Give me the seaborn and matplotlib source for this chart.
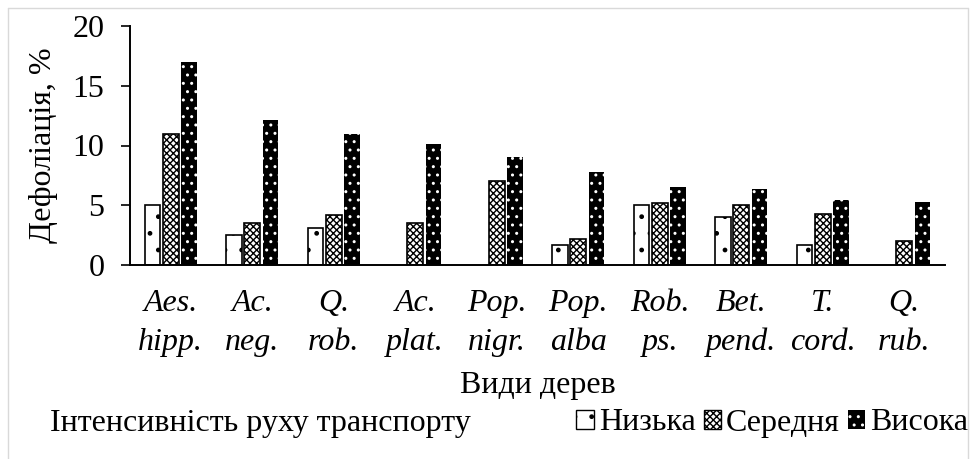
import matplotlib
matplotlib.use("Agg")
import matplotlib.pyplot as plt
from matplotlib.patches import Patch
from matplotlib.lines import Line2D
import seaborn as sns
import pandas as pd

species = ["Aes.\nhipp.", "Ac.\nneg.", "Q.\nrob.", "Ac.\nplat.", "Pop.\nnigr.",
           "Pop.\nalba", "Rob.\nps.", "Bet.\npend.", "T.\ncord.", "Q.\nrub."]
levels = ["Низька", "Середня", "Висока"]
low = [5.0, 2.5, 3.1, 0.0, 0.0, 1.7, 5.0, 4.0, 1.7, 0.0]
mid = [11.0, 3.5, 4.2, 3.5, 7.0, 2.2, 5.2, 5.0, 4.3, 2.0]
high = [17.0, 12.1, 11.0, 10.1, 9.0, 7.8, 6.5, 6.4, 5.4, 5.3]

rows = []
for lev, vals in zip(levels, [low, mid, high]):
    for sp, v in zip(species, vals):
        rows.append({"species": sp, "level": lev, "value": v})
df = pd.DataFrame(rows)

sns.set_theme(style="ticks")
plt.rcParams["font.family"] = ["Liberation Serif", "DejaVu Serif"]
plt.rcParams["text.color"] = "black"
FS = 23

fig = plt.figure(figsize=(9.73, 4.59), dpi=100)
ax = fig.add_axes([130 / 973, 1 - 265 / 459, 815 / 973, 239 / 459])

sns.barplot(data=df, x="species", y="value", hue="level", order=species,
            hue_order=levels, palette=["white", "white", "black"],
            width=0.68, gap=0.16, edgecolor="black", linewidth=1.2,
            legend=False, ax=ax)

# low: white with sparse dots, mid: fine checker, high: black with white dots
styles = [("white", "black", "."), ("white", "black", "xxxxx"), ("black", "white", "..")]
for cont, (fc, ec, h) in zip(ax.containers, styles):
    for bar in cont:
        bar.set_facecolor(fc)
        bar.set_hatch(h)
        bar.set_edgecolor(ec)
        if fc == "black":
            bar.set_linewidth(0)
        if bar.get_height() == 0:
            bar.set_visible(False)

ax.set_ylim(0, 20)
ax.set_yticks([0, 5, 10, 15, 20])
ax.set_xlim(-0.5, len(species) - 0.5)
ax.tick_params(axis="y", labelsize=FS, length=6.5, width=1.2, direction="out",
               pad=12, color="black", labelcolor="black")
ax.tick_params(axis="x", labelsize=FS, length=0, pad=17, labelcolor="black")
for lab in ax.get_xticklabels():
    lab.set_fontstyle("italic")
    lab.set_linespacing(1.45)
ax.set_ylabel("Дефоліація, %", fontsize=FS, color="black", labelpad=10)
ax.set_xlabel("Види дерев", fontsize=FS, color="black", labelpad=10)
sns.despine(ax=ax)
for s in ["left", "bottom"]:
    ax.spines[s].set_color("black")
    ax.spines[s].set_linewidth(1.4)

fig.text(50 / 973, 1 - 423 / 459, "Інтенсивність руху транспорту", fontsize=FS,
         va="center", ha="left", color="black")
handles = [Patch(facecolor="white", edgecolor="black", hatch=".", linewidth=1.0),
           Patch(facecolor="white", edgecolor="black", hatch="xxxxx", linewidth=1.0),
           Patch(facecolor="black", edgecolor="white", hatch="..", linewidth=0)]
fig.legend(handles, levels, loc="center right", bbox_to_anchor=(0.995, 1 - 423 / 459),
           ncol=3, frameon=False, fontsize=FS, handlelength=0.55, handleheight=0.55,
           handletextpad=0.15, columnspacing=0.25, borderpad=0, borderaxespad=0,
           labelcolor="black")

grey = "#d9d9d9"
fig.add_artist(Line2D([8 / 973, 8 / 973], [0, 1 - 8 / 459], transform=fig.transFigure, color=grey, lw=1))
fig.add_artist(Line2D([8 / 973, 968 / 973], [1 - 8 / 459, 1 - 8 / 459], transform=fig.transFigure, color=grey, lw=1))
fig.add_artist(Line2D([968 / 973, 968 / 973], [0, 1 - 8 / 459], transform=fig.transFigure, color=grey, lw=1))

fig.savefig("out.png", dpi=100, facecolor="white")
